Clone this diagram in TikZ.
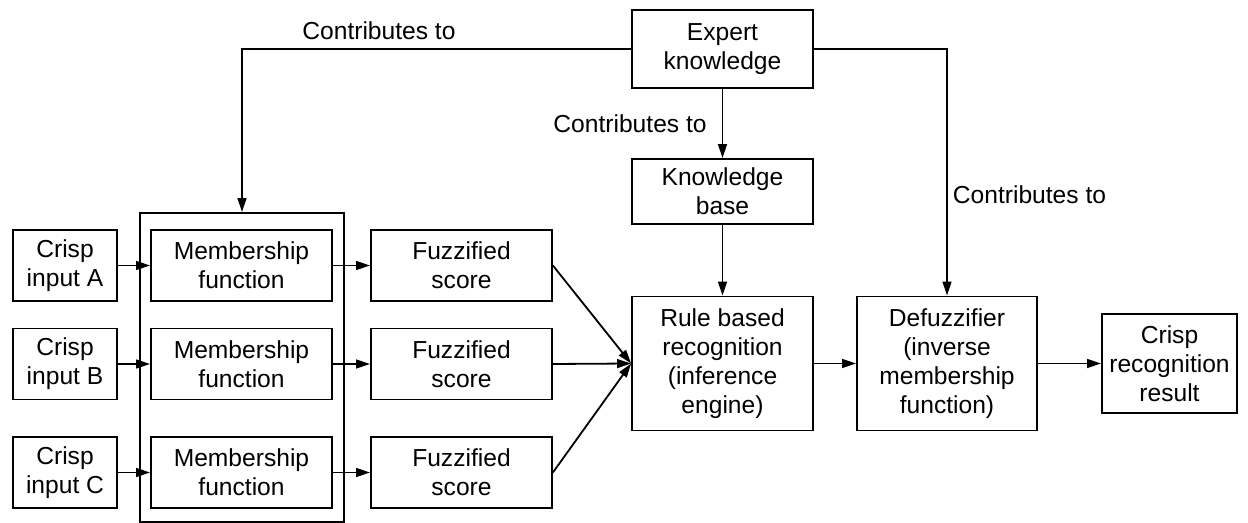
\documentclass[tikz,border=0pt]{standalone}
\usepackage{fontspec}
\setmainfont{Liberation Sans}
\usetikzlibrary{arrows.meta}
\begin{document}
\begin{tikzpicture}[x=0.5pt,y=-0.5pt,
  font=\fontsize{12.3}{14.6}\selectfont,
  box/.style={draw, line width=0.9pt, align=center, inner sep=1pt},
  arr/.style={line width=0.9pt, -{Triangle[length=7pt,width=4.4pt]}},
  lbl/.style={inner sep=0pt}]
  \useasboundingbox (0,0) rectangle (1248,523);

  % group frame around the membership functions
  \node[box, minimum width=102pt, minimum height=154.5pt] (outer) at (242,367.5) {};

  % crisp inputs, membership functions and fuzzified scores
  \foreach \r/\y in {A/265.5, B/364, C/472.5}{
    \node[box, minimum width=52pt, minimum height=35.5pt] (in\r) at (65,\y) {Crisp\\input \r};
    \node[box, minimum width=90.5pt, minimum height=35.5pt] (mem\r) at (241.5,\y) {Membership\\function};
    \node[box, minimum width=90.5pt, minimum height=35.5pt] (fuz\r) at (461.5,\y) {Fuzzified\\score};
  }

  % knowledge and inference chain
  \node[box, minimum width=90.5pt, minimum height=39pt] (expert) at (722.5,49) {Expert\\knowledge};
  \node[box, minimum width=90.5pt, minimum height=32.5pt] (kb) at (722.5,191.5) {Knowledge\\base};
  \node[box, minimum width=90.5pt, minimum height=67pt] (rule) at (722.5,363.5) {Rule based\\recognition\\(inference\\engine)};
  \node[box, minimum width=90pt, minimum height=67pt] (defuz) at (947,363.5) {Defuzzifier\\(inverse\\membership\\function)};
  \node[box, minimum width=67.5pt, minimum height=49.5pt] (result) at (1169.5,363.5) {Crisp\\recognition\\result};

  % expert knowledge contributions
  \draw[arr] (expert.west) -| node[lbl, pos=0.324, anchor=south, yshift=4pt] {Contributes to} (outer.north);
  \draw[arr] (expert.south) -- node[lbl, midway, anchor=east, xshift=-7.5pt] {Contributes to} (kb.north);
  \draw[arr] (expert.east) -| node[lbl, pos=0.796, anchor=west, xshift=2.5pt] {Contributes to} (defuz.north);

  % signal flow
  \foreach \r in {A,B,C}{
    \draw[arr] (in\r.east) -- (mem\r.west);
    \draw[arr] (mem\r.east) -- (fuz\r.west);
    \draw[arr] (fuz\r.east) -- (rule.west);
  }
  \draw[arr] (kb.south) -- (rule.north);
  \draw[arr] (rule.east) -- (defuz.west);
  \draw[arr] (defuz.east) -- (result.west);
\end{tikzpicture}
\end{document}
